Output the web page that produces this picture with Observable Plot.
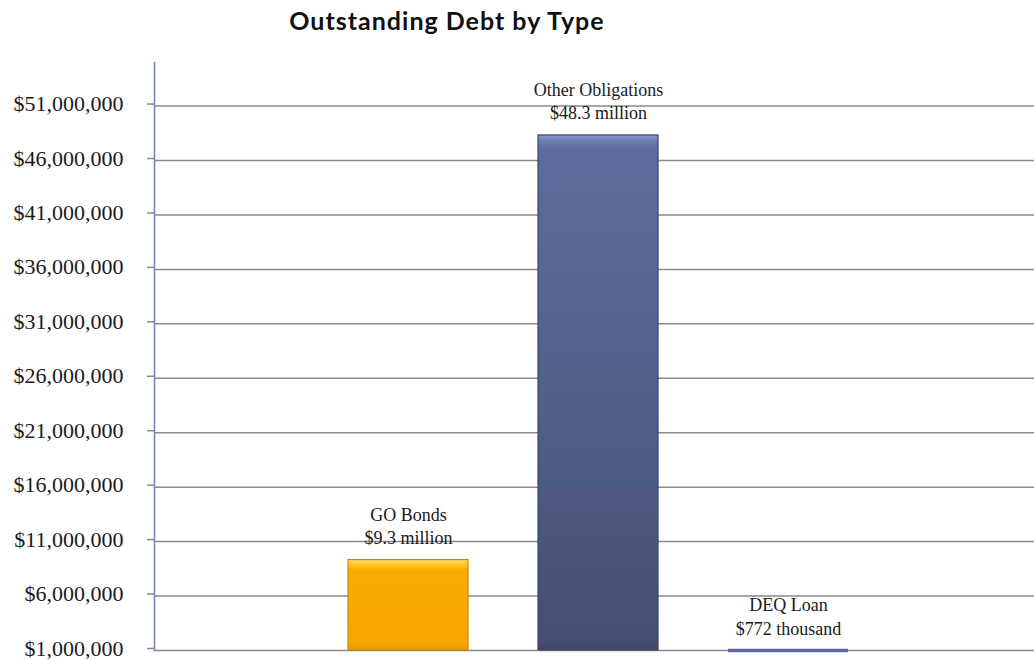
<!DOCTYPE html>
<html>
<head>
<meta charset="utf-8">
<script src="https://cdn.jsdelivr.net/npm/d3@7"></script>
<script src="https://cdn.jsdelivr.net/npm/@observablehq/plot@0.6"></script>
<style>
  html, body { margin: 0; padding: 0; background: #fff; overflow: hidden; }
  #wrap { position: relative; width: 1034px; height: 660px; }
  #title { position: absolute; left: 0; top: 5px; width: 894px; text-align: center;
    font-family: Lato, "Open Sans", sans-serif; font-weight: 700; font-size: 25px; color: #111; letter-spacing: 1px; }
  #chart { position: absolute; left: 0; top: 49px; }
</style>
</head>
<body>
<div id="wrap">
  <div id="title">Outstanding Debt by Type</div>
  <div id="chart"></div>
</div>
<script>
const categories = ["GO Bonds", "Other Obligations", "DEQ Loan"];
const values = [9300000, 48300000, 772000];
const valueLabels = ["$9.3 million", "$48.3 million", "$772 thousand"];
const fills = ["url(#gGold)", "url(#gNavy)", "url(#gNavy)"];
const strokes = ["#c98a00", "#3a4468", "#5a6a9a"];
const yTicks = [1000000, 6000000, 11000000, 16000000, 21000000, 26000000, 31000000, 36000000, 41000000, 46000000, 51000000];

const base = 1000000;
const data = categories.map((c, i) => ({
  cat: c, value: values[i], label: c + "\n" + valueLabels[i], fill: fills[i], stroke: strokes[i]
}));

const chart = Plot.plot({
  width: 1034,
  height: 611,
  marginLeft: 154,
  marginRight: 0,
  marginTop: 13,
  marginBottom: 10,
  x: { domain: categories, range: [278, 918], padding: 0.368, axis: null },
  y: { domain: [1000000, 55000000], clamp: true, axis: null },
  color: { type: "identity" },
  marks: [
    Plot.ruleY(yTicks, { stroke: "#8a8a8a", strokeWidth: 1.5 }),
    Plot.axisY({ ticks: yTicks, tickFormat: d3.format("$,.0f"), tickSize: 7, tickPadding: 24, label: null,
      stroke: "#8a8a8a", strokeWidth: 1.5, fontSize: 22, dy: -2, fill: "#1a1a1a", fontFamily: "'Liberation Serif', serif" }),
    Plot.rectY(data.filter(d => d.value > base), { x: "cat", y1: base, y2: "value", fill: "fill", stroke: "stroke", strokeWidth: 1.2 }),
    Plot.tickY(data.filter(d => d.value <= base), { x: "cat", y: base, stroke: "stroke", strokeWidth: 3.5 }),
    Plot.frame({ anchor: "left", stroke: "#7b86b8", strokeWidth: 1.6 }),
    Plot.text(data, { x: "cat", y: d => Math.max(d.value, base), text: "label", dy: -16, lineAnchor: "bottom",
      lineHeight: 1.28, fontSize: 18, fill: "#1a1a1a", fontFamily: "'Liberation Serif', serif", letterSpacing: 0.3 })
  ]
});

// gradients
const ns = "http://www.w3.org/2000/svg";
const defs = document.createElementNS(ns, "defs");
defs.innerHTML = `
  <linearGradient id="gGold" x1="0" y1="0" x2="0" y2="1">
    <stop offset="0" stop-color="#ffe27a"/>
    <stop offset="0.06" stop-color="#fbc21a"/>
    <stop offset="0.12" stop-color="#fbab00"/>
    <stop offset="0.9" stop-color="#f9a700"/>
    <stop offset="1" stop-color="#e99a00"/>
  </linearGradient>
  <linearGradient id="gNavy" x1="0" y1="0" x2="0" y2="1">
    <stop offset="0" stop-color="#8c9bcc"/>
    <stop offset="0.012" stop-color="#6b7aaa"/>
    <stop offset="0.03" stop-color="#5d6c9c"/>
    <stop offset="0.5" stop-color="#52608c"/>
    <stop offset="0.98" stop-color="#454f73"/>
    <stop offset="1" stop-color="#3e4666"/>
  </linearGradient>`;
chart.insertBefore(defs, chart.firstChild);
document.getElementById("chart").appendChild(chart);
</script>
</body>
</html>
